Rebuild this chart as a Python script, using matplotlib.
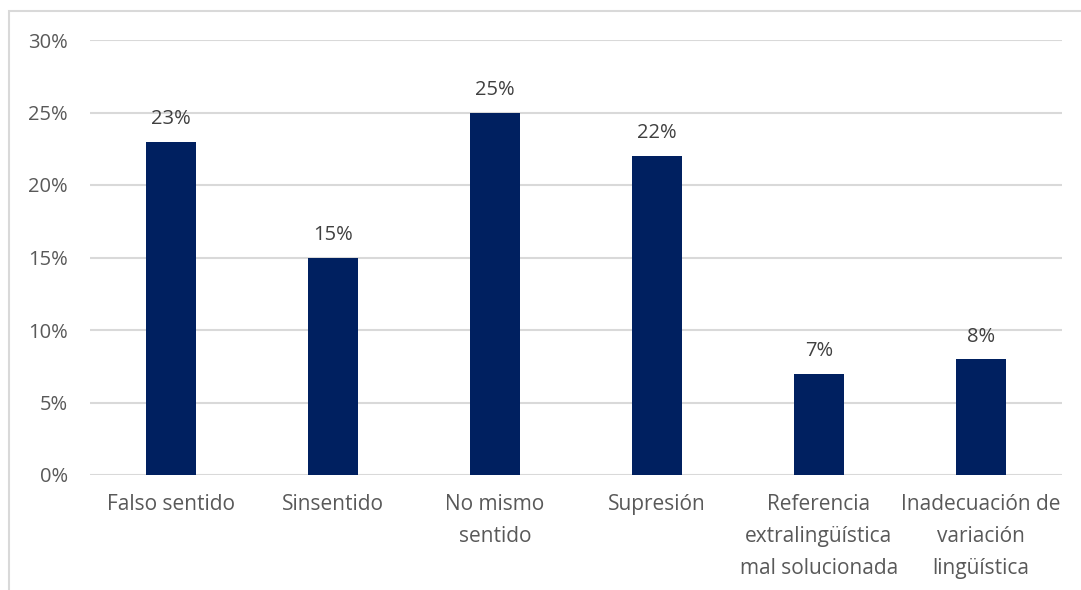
import matplotlib.pyplot as plt
from matplotlib.patches import Rectangle

categories = ["Falso sentido", "Sinsentido", "No mismo\nsentido", "Supresión",
              "Referencia\nextralingüística\nmal solucionada",
              "Inadecuación de\nvariación\nlingüística"]
values = [23, 15, 25, 22, 7, 8]
yticks = [0, 5, 10, 15, 20, 25, 30]

plt.rcParams['font.family'] = ['Open Sans', 'DejaVu Sans']
text_color = "#595959"

W, H = 1081, 590
fig = plt.figure(figsize=(W / 100, H / 100), dpi=100)
fig.patches.append(Rectangle((9 / W, -0.1), 1.2, 1 - 11 / H + 0.1, transform=fig.transFigure,
                             fill=False, edgecolor="#D9D9D9", linewidth=1.5))

ax = fig.add_axes([90 / W, 1 - 475 / H, (1062 - 90) / W, (475 - 40) / H])
x = range(len(categories))
bars = ax.bar(x, values, width=0.31, color="#002060", zorder=3)
for xi, v in zip(x, values):
    ax.annotate(f"{v}%", (xi, v), xytext=(0, 9), textcoords="offset points",
                ha="center", va="bottom", fontsize=14.5, color="#404040")

ax.set_xlim(-0.5, len(categories) - 0.5)
ax.set_ylim(0, 30)
ax.set_yticks(yticks)
ax.set_yticklabels([f"{t}%" for t in yticks])
ax.set_xticks(list(x))
ax.set_xticklabels(categories, linespacing=1.68)
ax.tick_params(axis="both", length=0, labelsize=14.5, labelcolor=text_color)
ax.tick_params(axis="x", labelsize=15, pad=14)
ax.tick_params(axis="y", pad=16)
ax.grid(axis="y", color="#D9D9D9", linewidth=1.5, zorder=0)
for s in ax.spines.values():
    s.set_visible(False)

fig.savefig("out.png", dpi=100)
